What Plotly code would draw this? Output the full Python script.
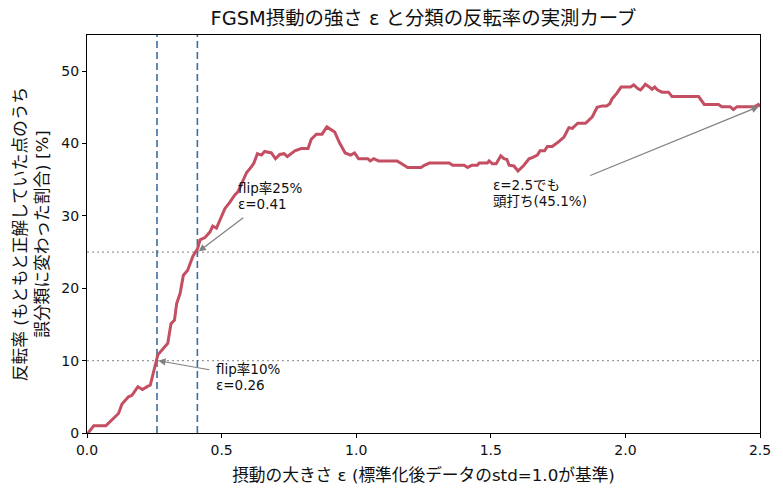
import plotly.graph_objects as go

# ---- data ----
eps = [0.0, 0.004, 0.025, 0.07, 0.117, 0.13, 0.154, 0.167, 0.189, 0.206, 0.228, 0.235,
       0.263, 0.284, 0.30, 0.312, 0.325, 0.333, 0.346, 0.358, 0.374, 0.393, 0.411, 0.42,
       0.438, 0.457, 0.467, 0.481, 0.494, 0.512, 0.531, 0.549, 0.56, 0.58, 0.593, 0.611,
       0.62, 0.633, 0.648, 0.66, 0.685, 0.70, 0.716, 0.732, 0.744, 0.772, 0.796, 0.821,
       0.833, 0.852, 0.873, 0.891, 0.905, 0.92, 0.938, 0.959, 0.979, 0.994, 1.009, 1.043,
       1.052, 1.065, 1.083, 1.152, 1.169, 1.191, 1.241, 1.253, 1.272, 1.346, 1.358, 1.401,
       1.414, 1.43, 1.45, 1.457, 1.487, 1.494, 1.506, 1.52, 1.537, 1.549, 1.56, 1.568,
       1.586, 1.601, 1.623, 1.642, 1.656, 1.673, 1.683, 1.70, 1.71, 1.728, 1.747, 1.772,
       1.79, 1.803, 1.823, 1.852, 1.877, 1.895, 1.914, 1.93, 1.942, 1.951, 1.967, 1.984,
       2.019, 2.031, 2.046, 2.056, 2.066, 2.074, 2.086, 2.099, 2.109, 2.12, 2.136, 2.16,
       2.173, 2.272, 2.293, 2.346, 2.358, 2.389, 2.401, 2.415, 2.481, 2.494, 2.5]
flip = [0.0, 0.0, 1.0, 1.0, 2.7, 4.0, 5.0, 5.2, 6.4, 6.0, 6.5, 6.6,
        10.8, 11.7, 12.4, 15.1, 15.6, 17.9, 19.3, 21.8, 22.5, 24.4, 25.5, 26.7,
        27.0, 27.8, 28.6, 28.3, 29.5, 31.0, 31.9, 32.9, 33.3, 34.9, 36.0, 36.8,
        37.3, 38.6, 38.4, 38.9, 38.7, 37.9, 38.5, 38.6, 38.2, 39.0, 39.3, 39.3,
        40.6, 41.3, 41.3, 42.3, 41.9, 41.6, 40.1, 38.7, 38.4, 38.7, 37.9, 37.9,
        37.6, 37.9, 37.6, 37.6, 37.2, 36.7, 36.7, 37.0, 37.3, 37.3, 37.0, 37.0,
        36.7, 37.0, 37.0, 37.3, 37.3, 37.6, 37.2, 37.2, 38.3, 37.9, 37.8, 37.0,
        36.9, 36.2, 37.0, 37.9, 38.1, 38.4, 39.0, 39.0, 39.6, 39.6, 40.1, 40.9,
        42.2, 42.1, 42.8, 42.8, 43.7, 45.0, 45.2, 45.2, 45.5, 46.2, 46.9, 47.8,
        47.8, 48.1, 47.6, 47.4, 47.8, 48.2, 47.9, 47.5, 47.8, 47.4, 47.1, 47.1,
        46.5, 46.5, 45.4, 45.4, 45.1, 45.1, 44.7, 45.1, 45.1, 45.4, 45.1]

eps_marks = [0.26, 0.41]
flip_levels = [10, 25]

notes = [
    # text lines, text x, first-line y, arrow tail x, tail y, head x, head y
    (["flip率10%", "ε=0.26"], 0.47, 8.8, 0.46, 8.7, 0.265, 10.0),
    (["flip率25%", "ε=0.41"], 0.555, 33.8, 0.586, 29.9, 0.415, 25.1),
    (["ε=2.5でも", "頭打ち(45.1%)"], 1.50, 34.3, 1.864, 35.5, 2.495, 45.1),
]
LINE_STEP = 2.2  # vertical distance between note lines, in y units

FONT = "DejaVu Sans, Noto Sans CJK JP"

fig = go.Figure()

for lv in flip_levels:
    fig.add_trace(go.Scatter(x=[0, 2.5], y=[lv, lv], mode="lines",
                             line=dict(color="#9a9a9a", width=1.3, dash="2px,3px"),
                             showlegend=False, hoverinfo="skip"))
for e in eps_marks:
    fig.add_trace(go.Scatter(x=[e, e], y=[0, 55], mode="lines",
                             line=dict(color="#3a6e9f", width=1.6, dash="7px,4px"),
                             showlegend=False, hoverinfo="skip"))

fig.add_trace(go.Scatter(x=eps, y=flip, mode="lines",
                         line=dict(color="#c44e62", width=3),
                         showlegend=False))

for lines, tx, ty, ax, ay, hx, hy in notes:
    fig.add_annotation(x=hx, y=hy, ax=ax, ay=ay, xref="x", yref="y",
                       axref="x", ayref="y", text="", showarrow=True,
                       arrowhead=2, arrowsize=1.2, arrowwidth=1.2,
                       arrowcolor="#808080")
    for i, line in enumerate(lines):
        fig.add_annotation(x=tx, y=ty - i * LINE_STEP, xref="x", yref="y", text=line,
                           showarrow=False, xanchor="left", yanchor="middle",
                           align="left", font=dict(family=FONT, size=13.5, color="#111"))

# page adds an 8px body margin, so the figure is sized/margined to compensate
fig.update_layout(
    width=775, height=487,
    margin=dict(l=77, r=23, t=27, b=62),
    paper_bgcolor="white", plot_bgcolor="white",
    font=dict(family=FONT, color="#111"),
    title=dict(text="FGSM摂動の強さ ε と分類の反転率の実測カーブ",
               x=0.5, xref="paper", xanchor="center",
               yref="container", y=0.979, yanchor="middle",
               font=dict(family=FONT, size=19.4, color="#111")),
)
fig.update_xaxes(range=[0, 2.5], tickvals=[0, 0.5, 1.0, 1.5, 2.0, 2.5],
                 ticktext=["0.0", "0.5", "1.0", "1.5", "2.0", "2.5"],
                 showline=True, linecolor="black", linewidth=1, mirror=True,
                 ticks="outside", ticklen=4, tickcolor="black", showgrid=False,
                 zeroline=False, tickfont=dict(size=14),
                 title=dict(text="摂動の大きさ ε (標準化後データのstd=1.0が基準)",
                            font=dict(size=16.7), standoff=12))
fig.update_yaxes(range=[0, 55], tickvals=[0, 10, 20, 30, 40, 50],
                 showline=True, linecolor="black", linewidth=1, mirror=True,
                 ticks="outside", ticklen=4, tickcolor="black", showgrid=False,
                 zeroline=False, tickfont=dict(size=14),
                 title=dict(text="反転率 (もともと正解していた点のうち<br>誤分類に変わった割合) [%]",
                            font=dict(size=16.7), standoff=8))

fig.write_html("out.html")
